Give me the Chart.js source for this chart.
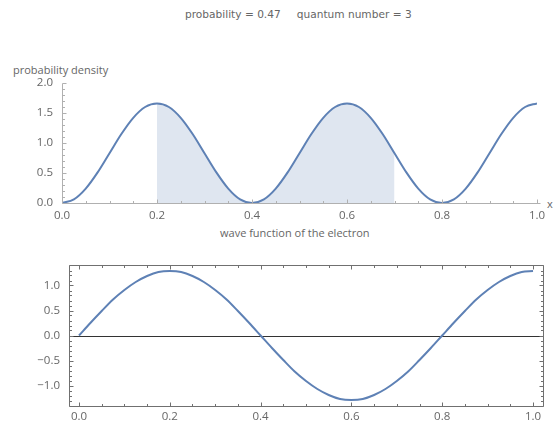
<!DOCTYPE html>
<html>
<head>
<meta charset="utf-8">
<script src="https://cdn.jsdelivr.net/npm/chart.js@4/dist/chart.umd.min.js"></script>
<style>
  body { margin: 0; background: #fff; width: 558px; height: 423px; position: relative; overflow: hidden; }
  canvas { position: absolute; left: 0; }
  .lbl { position: absolute; color: #666; white-space: nowrap; }
</style>
</head>
<body>
<div class="lbl" style="left:185px; top:8px; font: 10.6px 'DejaVu Sans';">probability = 0.47<span style="margin-left:16px">quantum number = 3</span></div>
<div class="lbl" style="left:13px; top:62px; font: 11px 'Open Sans';">probability density</div>
<div class="lbl" style="left:547px; top:196px; font: 11px 'Open Sans';">x</div>
<div class="lbl" style="left:220px; top:225px; font: 11px 'Open Sans';">wave function of the electron</div>
<canvas id="densityChart" width="558" height="230" style="top:0"></canvas>
<canvas id="waveChart" width="558" height="193" style="top:230px"></canvas>
<script>
const xs = [0, 0.025, 0.05, 0.075, 0.1, 0.125, 0.15, 0.175, 0.2, 0.225, 0.25, 0.275, 0.3, 0.325, 0.35, 0.375,
            0.4, 0.425, 0.45, 0.475, 0.5, 0.525, 0.55, 0.575, 0.6, 0.625, 0.65, 0.675, 0.7, 0.725, 0.75, 0.775,
            0.8, 0.825, 0.85, 0.875, 0.9, 0.925, 0.95, 0.975, 1.0];
const density = [0, 0.06, 0.24, 0.51, 0.83, 1.15, 1.42, 1.60, 1.66, 1.60, 1.42, 1.15, 0.83, 0.51, 0.24, 0.06,
                 0, 0.06, 0.24, 0.51, 0.83, 1.15, 1.42, 1.60, 1.66, 1.60, 1.42, 1.15, 0.83, 0.51, 0.24, 0.06,
                 0, 0.06, 0.24, 0.51, 0.83, 1.15, 1.42, 1.60, 1.66];
const psi = [0, 0.25, 0.49, 0.72, 0.91, 1.07, 1.19, 1.27, 1.29, 1.27, 1.19, 1.07, 0.91, 0.72, 0.49, 0.25,
             0, -0.25, -0.49, -0.72, -0.91, -1.07, -1.19, -1.27, -1.29, -1.27, -1.19, -1.07, -0.91, -0.72, -0.49, -0.25,
             0, 0.25, 0.49, 0.72, 0.91, 1.07, 1.19, 1.27, 1.29];
const shadeFrom = 0.2;
const shadeTo = 0.7;

// tick labels
const xTicks = [0, 0.2, 0.4, 0.6, 0.8, 1.0];
const densityTicks = [0, 0.5, 1.0, 1.5, 2.0];
const psiTicks = [-1.0, -0.5, 0, 0.5, 1.0];

const blue = '#5e81b5';
const tickFont = { family: 'Open Sans', size: 11.5 };

const pts = (ys) => xs.map((x, i) => ({ x: x, y: ys[i] }));
const shadePts = pts(density).filter(p => p.x >= shadeFrom - 1e-9 && p.x <= shadeTo + 1e-9);
const fmt = (v) => (v < 0 ? '\u2212' : '') + Math.abs(v).toFixed(1);

// Mathematica style inward ticks, minor + major
function tickPlugin(cfg) {
    return {
        id: 'mmaTicks',
        beforeDatasetsDraw(chart) {
            if (!cfg.zeroLine) return;
            const ctx = chart.ctx, a = chart.chartArea;
            const y0 = Math.round(chart.scales.y.getPixelForValue(0)) + 0.5;
            ctx.save();
            ctx.strokeStyle = '#333';
            ctx.lineWidth = 1;
            ctx.beginPath();
            ctx.moveTo(a.left, y0);
            ctx.lineTo(a.right, y0);
            ctx.stroke();
            ctx.restore();
        },
        afterDraw(chart) {
            const ctx = chart.ctx, a = chart.chartArea;
            const sx = chart.scales.x, sy = chart.scales.y;
            const L = Math.round(a.left) + 0.5, R = Math.round(a.right) + 0.5;
            const T = Math.round(a.top) + 0.5, B = Math.round(a.bottom) + 0.5;
            ctx.save();
            ctx.strokeStyle = cfg.color;
            ctx.lineWidth = 1;
            ctx.beginPath();
            if (cfg.frame) {
                ctx.rect(L, T, R - L, B - T);
            } else {
                ctx.moveTo(L, B); ctx.lineTo(R + 3, B);
                ctx.moveTo(L, B); ctx.lineTo(L, T);
            }
            // x ticks
            for (let k = cfg.xFrom; k <= cfg.xTo; k++) {
                const px = Math.round(sx.getPixelForValue(k * cfg.xMinor)) + 0.5;
                const len = k % cfg.xEvery === 0 ? 4 : 2.5;
                ctx.moveTo(px, B); ctx.lineTo(px, B - len);
                if (cfg.frame) { ctx.moveTo(px, T); ctx.lineTo(px, T + len); }
            }
            // y ticks
            for (let k = cfg.yFrom; k <= cfg.yTo; k++) {
                const py = Math.round(sy.getPixelForValue(k * cfg.yMinor)) + 0.5;
                const len = k % cfg.yEvery === 0 ? 4 : 2.5;
                ctx.moveTo(L, py); ctx.lineTo(L + len, py);
                if (cfg.frame) { ctx.moveTo(R, py); ctx.lineTo(R - len, py); }
            }
            ctx.stroke();
            ctx.restore();
        }
    };
}

function axis(min, max, ticks, fixed, pad, isX) {
    return {
        type: 'linear',
        min: min,
        max: max,
        grid: { display: false, drawTicks: false },
        border: { display: false },
        afterBuildTicks: (s) => { s.ticks = ticks.map(v => ({ value: v })); },
        afterFit: (s) => { if (isX) s.height = fixed; else s.width = fixed; },
        ticks: { color: '#666', font: tickFont, padding: pad, callback: fmt, autoSkip: false, maxRotation: 0 }
    };
}

new Chart(document.getElementById('densityChart'), {
    type: 'line',
    data: {
        datasets: [
            { data: pts(density), borderColor: blue, borderWidth: 2, pointRadius: 0, fill: false,
              cubicInterpolationMode: 'monotone' },
            { data: shadePts, borderWidth: 0, borderColor: 'rgba(0,0,0,0)', pointRadius: 0,
              backgroundColor: 'rgba(94,129,181,0.2)', fill: 'origin', cubicInterpolationMode: 'monotone' }
        ]
    },
    options: {
        responsive: false,
        animation: false,
        layout: { padding: { left: 0, right: 21, top: 83, bottom: 0 } },
        plugins: { legend: { display: false }, tooltip: { enabled: false } },
        scales: {
            x: axis(0, 1, xTicks, 27, 6, true),
            y: axis(0, 2, densityTicks, 62, 9, false)
        }
    },
    plugins: [tickPlugin({ color: '#b0b0b0', frame: false, xMinor: 0.05, xFrom: 0, xTo: 20, xEvery: 4,
                           yMinor: 0.1, yFrom: 0, yTo: 20, yEvery: 5 })]
});

new Chart(document.getElementById('waveChart'), {
    type: 'line',
    data: {
        datasets: [
            { data: pts(psi), borderColor: blue, borderWidth: 2, pointRadius: 0, fill: false,
              cubicInterpolationMode: 'monotone' }
        ]
    },
    options: {
        responsive: false,
        animation: false,
        layout: { padding: { left: 0, right: 15, top: 35, bottom: 0 } },
        plugins: { legend: { display: false }, tooltip: { enabled: false } },
        scales: {
            x: axis(-0.022, 1.022, xTicks, 17, 4, true),
            y: axis(-1.41, 1.41, psiTicks, 69, 9, false)
        }
    },
    plugins: [tickPlugin({ color: '#707070', frame: true, zeroLine: true, xMinor: 0.05, xFrom: 0, xTo: 20, xEvery: 4,
                           yMinor: 0.1, yFrom: -14, yTo: 14, yEvery: 5 })]
});
</script>
</body>
</html>
